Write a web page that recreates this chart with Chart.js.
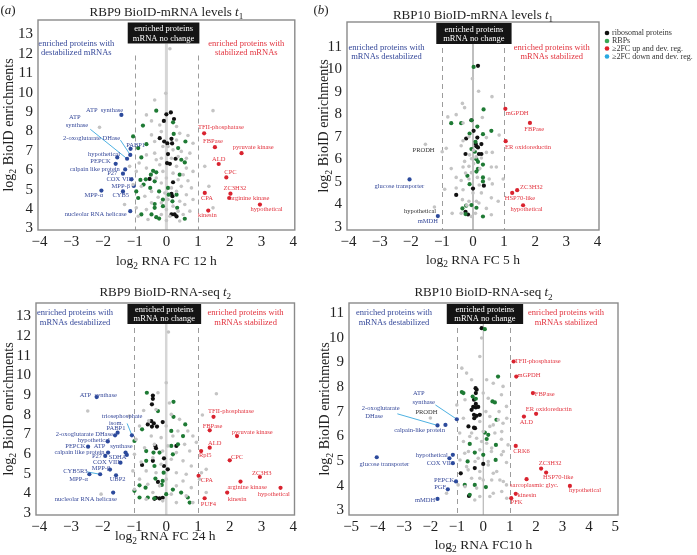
<!DOCTYPE html>
<html>
<head>
<meta charset="utf-8">
<script src="https://cdn.jsdelivr.net/npm/chart.js@4/dist/chart.umd.min.js"></script>
<style>
  body { margin: 0; background: #fff; }
  #wrap { position: relative; width: 697px; height: 555px; overflow: hidden; }
  canvas { position: absolute; }
</style>
</head>
<body>
<div id="wrap">
  <canvas id="cA" width="300" height="275" style="left:0;top:0;width:300px;height:275px"></canvas>
  <canvas id="cB" width="397" height="275" style="left:300px;top:0;width:397px;height:275px"></canvas>
  <canvas id="cC" width="300" height="280" style="left:0;top:275px;width:300px;height:280px"></canvas>
  <canvas id="cD" width="397" height="280" style="left:300px;top:275px;width:397px;height:280px"></canvas>
</div>
<script>
var SERIF = '"Liberation Serif", "DejaVu Serif", serif';

// ---- (a) RBP9 BioID-mRNA levels t1 ----
var aGrey = [[0.11,12.26],[-0.02,9.96],[-0.37,9.62],[1.47,9.07],[-2.11,8.21],[-0.63,8.85],[-0.47,8.54],[-0.21,8.33],[0.32,8.25],[-0.16,7.99],[0.42,7.9],[0.68,7.79],[-0.47,7.82],[-0.37,7.48],[0.32,7.56],[0.84,7.39],[-0.11,7.22],[0.21,7.05],[0.47,6.97],[0.74,6.88],[-0.37,6.88],[-0.63,6.79],[-0.16,6.62],[0.37,6.71],[0.63,6.62],[1.21,6.2],[-0.21,6.28],[0.32,6.2],[0.63,6.11],[-0.63,6.11],[-0.95,5.94],[-0.11,5.94],[0.21,5.85],[0.53,5.77],[0.84,5.94],[-0.32,5.6],[0.0,5.6],[0.37,5.51],[0.68,5.46],[-0.79,5.17],[-0.16,5.34],[0.16,5.09],[0.47,5.17],[0.79,5.09],[1.34,5.17],[-0.47,4.91],[-0.05,4.83],[0.32,4.91],[0.63,4.74],[-0.68,4.66],[-0.26,4.61],[0.05,4.49],[0.42,4.4],[0.84,4.49],[-0.47,4.32],[-0.16,4.32],[0.21,4.15],[0.58,4.23],[-1.32,4.23],[1.47,4.06],[-0.95,4.06],[-0.63,3.97],[0.0,3.97],[0.37,3.89],[0.74,3.89],[-0.89,3.63],[-0.16,3.72],[0.11,3.63],[0.53,3.72],[-0.58,3.46],[0.0,3.41],[0.42,3.38],[-1.05,5.26],[-1.16,6.2],[-0.86,6.37],[0.16,6.62],[0.05,7.22],[-0.32,6.54]];
var aGreen = [[-0.32,9.07],[-0.74,8.3],[-1.05,7.74],[0.21,8.47],[0.23,7.87],[0.6,7.48],[-0.63,7.34],[0.37,7.14],[-0.89,7.14],[0.47,6.54],[0.58,6.4],[-0.79,6.66],[-0.42,5.97],[-0.32,5.89],[-0.49,5.77],[-0.65,5.53],[-0.37,5.43],[-0.82,5.5],[-0.72,5.26],[-0.51,5.09],[-0.23,4.91],[-0.89,4.57],[-0.95,4.91],[0.05,5.09],[0.07,4.74],[-0.11,4.49],[-0.37,4.26],[-0.11,4.15],[-0.37,4.06],[-0.79,3.72],[-0.47,3.72],[-0.32,3.58],[-0.23,3.51],[0.58,3.5],[0.34,4.06],[0.19,4.4],[0.32,4.74],[0.42,5.77]];
var aBlack = [[0.14,8.98],[0.0,8.88],[-0.08,8.54],[0.24,8.64],[-0.21,7.65],[-0.07,7.48],[0.03,7.38],[0.16,7.62],[0.18,7.38],[0.02,6.37],[0.11,6.33],[0.29,6.59],[-0.53,5.55],[0.21,5.38],[0.16,4.78],[0.19,4.66],[0.16,3.72],[0.26,3.72],[0.32,3.62],[0.05,6.83]];
var aRed = [[1.19,7.9],[1.53,7.19],[2.37,6.88],[1.65,6.32],[1.89,5.63],[2.02,4.79],[1.21,4.83],[1.98,4.57],[2.95,4.23],[1.32,3.92]];
var aBlue = [[-1.42,8.85],[-1.13,7.1],[-1.14,6.79],[-1.24,6.59],[-1.55,6.66],[-1.6,6.33],[-1.3,6.04],[-1.37,5.82],[-1.1,5.53],[-1.03,5.19],[-2.05,4.95],[-1.37,4.91],[-1.14,3.89]];
var aRedLab = [['TFII-phosphatase',1.72,8.2],['FBPase',1.47,7.48],['pyruvate kinase',2.74,7.17],['ALD',1.65,6.57],['CPC',2.02,5.91],['ZC3H32',2.16,5.05],['CPA',1.28,4.54],['arginine kinase',2.63,4.57],['hypothetical',3.16,3.97],['kinesin',1.29,3.67]];
var aBlueLab = [['ATP  synthase',-1.95,9.1],['ATP',-2.89,8.71],['synthase',-2.82,8.33],['2-oxoglutarate DHase',-2.36,7.62],['PABP1',-0.97,7.26],['hypothetical',-1.97,6.83],['PEPCK',-2.08,6.45],['calpain like protein',-2.26,6.06],['P27',-1.71,5.82],['COX VIII',-1.47,5.53],['MPP-\u03b2',-1.44,5.19],['MPP-\u03b1',-2.29,4.71],['CYB5',-1.44,4.69],['nucleolar RNA helicase',-2.23,3.75]];
var aLines = [[-2.4,8.11,-1.24,6.59],[-1.45,7.55,-1.14,6.79]];

// ---- (b) RBP10 BioID-mRNA levels t1 ----
var bGrey = [[-0.02,9.58],[0.18,9.02],[0.61,8.78],[-0.34,8.48],[-0.27,8.29],[-0.54,7.98],[-0.81,7.88],[-0.32,7.61],[0.3,7.85],[0.84,7.07],[-0.32,6.82],[-0.13,7.0],[0.43,6.96],[-0.86,6.48],[-0.99,6.33],[-0.38,6.6],[-0.11,6.19],[-0.05,6.02],[0.27,6.05],[0.43,6.3],[0.62,6.3],[-0.27,5.9],[-0.13,5.68],[0.02,5.8],[0.22,5.58],[-0.32,5.65],[-0.7,5.58],[0.59,5.65],[0.75,5.65],[0.97,5.12],[-0.24,5.38],[-0.54,5.19],[-0.38,5.05],[-0.13,5.12],[0.14,5.19],[0.52,5.12],[0.62,4.9],[-0.54,4.72],[-0.32,4.64],[0.0,4.5],[0.27,4.5],[0.59,4.28],[-0.91,4.66],[0.81,4.13],[-0.34,4.2],[-0.13,4.13],[0.11,4.13],[-0.67,3.59],[-0.38,3.59],[-0.05,3.45],[0.08,3.59],[0.59,3.53],[0.43,3.81],[0.19,4.05],[-1.53,6.66],[-1.24,3.87],[0.02,6.4],[0.1,6.1],[-0.05,5.4],[0.2,4.85],[-0.2,3.95]];
var bGreen = [[0.02,10.1],[0.34,8.21],[-0.7,7.6],[-0.38,7.6],[-0.05,7.73],[0.14,7.45],[0.59,7.26],[-0.11,7.14],[0.32,7.11],[0.08,6.77],[-0.05,6.45],[0.06,6.33],[0.11,6.0],[0.16,5.88],[0.32,5.76],[0.16,5.57],[0.11,5.45],[0.32,5.19],[0.32,5.01],[-0.18,5.26],[-0.11,4.89],[-0.22,3.93],[-0.05,3.96],[0.11,3.84],[-0.24,3.56],[0.32,3.45],[-0.34,3.81]];
var bBlack = [[0.16,10.15],[-0.05,7.73],[0.02,7.26],[-0.22,6.92],[0.14,6.96],[0.09,6.67],[0.27,6.67],[0.11,6.57],[0.16,6.52],[-0.24,6.23],[0.19,6.23],[0.27,6.23],[0.35,4.82],[0.0,4.69],[-0.54,4.41],[-0.16,3.54],[-0.24,3.66]];
var bRed = [[1.04,8.24],[1.83,7.61],[1.05,6.8],[1.42,4.62],[1.26,4.5],[1.61,3.95]];
var bBlue = [[-2.04,5.1],[-1.13,3.47]];
var bRedLab = [['mGPDH',1.42,8.02],['FBPase',1.97,7.32],['ER oxidoreductin',1.77,6.51],['ZC3H32',1.88,4.76],['HSP70-like',1.51,4.25],['hypothetical',1.72,3.76]];
var bBlueLab = [['glucose transporter',-2.37,4.79],['mMDH',-1.45,3.25]];
var bDarkLab = [['PRODH',-1.59,6.38],['hypothetical',-1.7,3.66]];

// ---- (c) RBP9 BioID-RNA-seq t2 ----
var cGrey = [[0.07,12.21],[0.0,9.63],[-2.47,8.19],[-0.32,8.27],[1.58,9.07],[1.14,7.99],[-0.26,9.12],[-0.71,8.22],[-1.16,7.94],[0.16,8.02],[0.42,7.77],[0.0,7.43],[-0.84,7.43],[0.37,7.18],[0.68,7.18],[-0.47,6.92],[-0.16,6.84],[0.21,6.92],[0.84,6.92],[-0.95,6.75],[-0.37,6.5],[0.05,6.42],[0.58,6.5],[-0.68,6.33],[-0.11,6.16],[0.32,6.08],[0.74,6.16],[-1.0,5.99],[-0.42,5.82],[0.16,5.74],[0.53,5.66],[-0.79,5.6],[-0.16,5.49],[0.79,5.4],[1.26,5.23],[-1.05,5.15],[-0.63,5.15],[-0.32,5.06],[0.32,5.06],[0.63,4.98],[1.11,5.06],[-0.84,4.73],[0.0,4.73],[0.53,4.64],[-0.58,4.47],[-0.21,4.39],[0.32,4.39],[0.79,4.3],[-1.0,4.22],[1.26,4.05],[-0.42,4.05],[0.16,3.97],[-2.05,3.97],[0.63,3.88],[-0.63,3.71],[-0.11,3.63],[0.32,3.54],[0.84,3.54],[1.05,4.73],[0.95,6.6],[-0.55,7.7],[0.1,8.6]];
var cGreen = [[-0.61,9.12],[0.23,8.66],[0.23,7.9],[0.6,7.51],[-0.26,8.19],[-0.76,7.26],[0.16,7.18],[0.53,6.92],[-1.0,6.67],[0.37,6.5],[0.16,6.42],[-0.63,6.16],[-0.4,6.08],[-0.21,6.08],[0.21,5.99],[-0.63,5.66],[-0.37,5.4],[-0.08,5.06],[-0.34,4.76],[-0.11,4.64],[-0.14,4.44],[-0.84,4.42],[-1.0,4.14],[-0.65,4.3],[0.21,4.2],[0.47,4.05],[0.0,3.97],[-0.84,3.8],[-0.58,3.8],[-0.37,3.76],[0.74,3.54],[0.68,3.8]];
var cBlack = [[-0.42,8.98],[-0.42,8.81],[-0.45,8.53],[-0.47,7.68],[-0.58,7.51],[-0.39,7.56],[-0.45,7.4],[-0.29,7.4],[-0.11,7.63],[-0.34,6.42],[-0.32,6.3],[0.32,6.42],[-0.42,5.66],[-0.07,5.79],[-0.76,5.45],[-0.07,5.4],[0.05,5.23],[-0.26,4.59],[-0.11,3.78],[-0.21,3.75],[-0.32,3.78],[-0.37,3.73]];
var cRed = [[1.49,7.9],[1.37,7.21],[2.23,6.92],[1.37,6.33],[1.1,6.16],[2.0,5.69],[2.95,4.84],[1.02,4.9],[2.34,4.61],[3.6,4.29],[1.92,4.05],[1.21,3.76]];
var cBlue = [[-2.19,8.9],[-1.08,6.96],[-1.53,7.09],[-1.61,6.96],[-1.84,6.65],[-2.46,6.38],[-1.28,6.08],[-1.83,6.08],[-1.92,5.91],[-1.24,5.96],[-1.44,5.57],[-1.77,5.22],[-2.08,4.98],[-2.42,4.98],[-1.58,4.93],[-1.67,4.05]];
var cRedLab = [['TFII-phosphatase',2.04,8.16],['FBPase',1.46,7.43],['pyruvate kinase',2.71,7.13],['ALD',1.53,6.55],['Rpl5',1.23,5.94],['CPC',2.23,5.82],['ZC3H3',3.01,5.03],['CPA',1.28,4.69],['arginine kinase',2.55,4.3],['hypothetical',3.39,3.95],['kinesin',2.23,3.71],['PUF4',1.33,3.46]];
var cBlueLab = [['ATP  synthase',-2.14,9.0],['triosephosphate',-1.39,7.9],['isom.',-1.58,7.56],['PABP1',-1.58,7.29],['2-oxoglutarate DHase',-2.58,7.0],['hypothetical',-2.28,6.7],['PEPCK',-2.86,6.42],['ATP   synthase',-1.67,6.38],['calpain like protein',-2.73,6.11],['P27',-2.18,5.88],['SDHA',-1.53,5.86],['COX VIII',-1.89,5.57],['MPP-\u03b2',-2.05,5.3],['CYB5R3',-2.86,5.15],['MPP-\u03b1',-2.76,4.73],['UBP2',-1.53,4.73],['nucleolar RNA helicase',-2.53,3.71]];
var cLines = [[-1.23,7.56,-1.08,6.96],[-2.49,5.1,-2.08,4.98]];

// ---- (d) RBP10 BioID-RNA-seq t2 ----
var dGrey = [[-0.06,9.99],[-0.13,9.24],[-0.81,8.77],[-0.63,8.57],[-0.44,8.3],[0.13,8.3],[0.38,8.16],[0.75,8.03],[0.69,7.69],[0.0,7.76],[0.19,7.55],[-0.69,7.49],[-1.0,7.28],[0.88,7.22],[0.6,7.01],[0.1,7.01],[0.25,6.81],[-0.75,6.74],[0.75,6.54],[-0.13,6.61],[0.25,6.41],[-0.44,6.14],[0.0,6.2],[0.44,6.14],[-0.25,5.93],[0.69,5.89],[0.13,5.73],[-0.75,5.8],[0.94,5.66],[-0.56,5.39],[-0.13,5.46],[0.31,5.39],[0.69,5.26],[-0.88,5.05],[-0.31,4.99],[0.19,4.99],[0.88,4.95],[-0.63,4.78],[-0.13,4.58],[0.38,4.51],[-0.44,4.31],[0.0,4.24],[0.63,4.24],[-0.69,3.97],[-0.25,3.91],[0.38,3.7],[-0.13,3.57],[0.88,4.04],[-2.0,6.75],[0.89,6.74],[0.57,6.68],[0.38,6.47],[0.7,6.2],[-0.89,6.14],[-0.51,6.0],[-0.06,5.8],[0.32,5.53],[-0.7,5.32],[-0.19,5.12],[0.76,5.39],[0.19,4.85],[-0.57,4.65],[0.51,4.58],[-0.13,4.31],[0.32,4.24],[0.76,4.18],[-0.95,4.04],[0.7,3.77],[0.25,3.57],[-0.32,3.43],[-1.39,3.7],[0.89,3.5]];
var dGreen = [[0.06,10.35],[0.56,8.43],[-0.81,7.8],[-0.75,7.76],[-0.4,7.62],[-0.28,7.53],[0.35,7.42],[0.44,7.38],[0.5,6.68],[0.06,6.16],[0.19,6.07],[0.13,5.9],[0.48,5.66],[-0.51,5.7],[-0.32,5.35],[0.0,5.26],[0.47,5.05],[-0.59,4.99],[-0.7,4.04],[-0.32,4.04],[0.1,3.95],[-0.51,3.64]];
var dBlack = [[-0.06,10.39],[-0.29,7.96],[-0.25,7.9],[-0.28,7.76],[-0.35,7.49],[-0.28,7.32],[-0.38,7.2],[-0.28,7.18],[-0.19,7.2],[-0.44,7.08],[-0.35,6.88],[-0.25,6.84],[-0.13,6.88],[-0.34,6.74],[-0.35,6.36],[-0.56,6.41],[-0.31,6.34],[0.0,4.89],[-0.85,4.51],[-0.32,4.72],[-0.54,3.59]];
var dRed = [[1.15,9.04],[1.25,8.43],[1.88,7.76],[2.0,6.92],[1.54,6.81],[1.23,5.62],[2.19,4.7],[2.38,4.54],[1.64,4.27],[3.28,4.0],[1.23,3.68],[1.06,3.5]];
var dBlue = [[-1.0,6.7],[-1.73,6.45],[-1.43,6.47],[-4.03,5.16],[-1.28,5.12],[-1.15,5.26],[-1.15,4.92],[-1.03,4.18],[-1.34,3.86],[-1.73,3.47]];
var dRedLab = [['TFII-phosphatase',2.06,9.04],['mGPDH',1.73,8.5],['FBPase',2.33,7.72],['ER oxidoreductin',2.48,7.11],['ALD',1.63,6.58],['CRK6',1.45,5.42],['ZC3H32',2.53,4.92],['HSP70-like',2.84,4.35],['sarcoplasmic glyc.',1.93,4.01],['hypothetical',3.85,3.81],['kinesin',1.65,3.61],['PFK',1.26,3.34]];
var dBlueLab = [['ATP',-2.44,7.76],['synthase',-2.25,7.39],['2-oxoglutarate',-3.88,7.15],['DHase',-4.13,6.81],['calpain-like protein',-2.41,6.24],['glucose transporter',-3.74,4.89],['hypothetical',-1.95,5.22],['COX VII',-1.68,4.92],['PEPCK',-1.48,4.24],['PGF',-1.63,3.95],['mMDH',-2.2,3.43]];
var dDarkLab = [['PRODH',-2.15,6.99]];
var dLines = [[-1.81,7.28,-1.0,6.7],[-3.25,6.92,-1.73,6.45]];

var legendNames = ['ribosomal proteins', 'RBPs', '\u22652FC up and dev. reg.', '\u22652FC down and dev. reg.'];
var legendColors = ['#111111', '#3aa655', '#e0202a', '#29a9e1'];

var RED_TXT = '#e2343f', BLUE_TXT = '#36499a';

function range(a, b) { var r = []; for (var i = a; i <= b; i++) r.push(i); return r; }
function fmt(v) { return v < 0 ? '\u2212' + (-v) : '' + v; }
function pts(arr) { return arr.map(function (p) { return { x: p[0], y: p[1] }; }); }
function ds(arr, color, r) {
  return { data: pts(arr), backgroundColor: color, pointBackgroundColor: color,
           pointRadius: r, pointBorderWidth: 0, pointHoverRadius: r };
}

// text with italic / subscript pieces, centred on x
function rich(ctx, parts, x, y, size) {
  function f(k) { return (k === 'i' ? 'italic ' : '') + (k === 's' ? size * 0.7 : size) + 'px ' + SERIF; }
  var w = 0;
  parts.forEach(function (p) { ctx.font = f(p[1]); w += ctx.measureText(p[0]).width; });
  var cx = x - w / 2;
  ctx.textAlign = 'left';
  ctx.textBaseline = 'alphabetic';
  parts.forEach(function (p) {
    ctx.font = f(p[1]);
    ctx.fillText(p[0], cx, y + (p[1] === 's' ? size * 0.28 : 0));
    cx += ctx.measureText(p[0]).width;
  });
}

function panelPlugin(p) {
  return {
    id: 'deco' + p.id,
    beforeDatasetsDraw: function (chart) {
      var ctx = chart.ctx, a = chart.chartArea, x = chart.scales.x, y = chart.scales.y;
      ctx.save();
      var bx1 = x.getPixelForValue(p.box[0]), bx2 = x.getPixelForValue(p.box[1]);
      var by = a.top + p.boxTop, bh = p.boxH;
      // zero line
      var x0 = x.getPixelForValue(0);
      ctx.strokeStyle = p.zeroColor; ctx.lineWidth = p.zeroW;
      ctx.beginPath(); ctx.moveTo(x0, by + bh); ctx.lineTo(x0, a.bottom); ctx.stroke();
      // dashed +-1
      ctx.setLineDash([5, 4]); ctx.strokeStyle = '#9c9c9c'; ctx.lineWidth = 1;
      [-1, 1].forEach(function (v) {
        var px = Math.round(x.getPixelForValue(v)) + 0.5;
        ctx.beginPath(); ctx.moveTo(px, by + bh + p.dashGap); ctx.lineTo(px, a.bottom); ctx.stroke();
      });
      ctx.setLineDash([]);
      // black header box
      ctx.fillStyle = '#141414';
      ctx.fillRect(bx1, by, bx2 - bx1, bh);
      ctx.fillStyle = '#fff';
      ctx.font = '8.5px ' + SERIF; ctx.textAlign = 'center'; ctx.textBaseline = 'middle';
      ctx.fillText('enriched proteins', (bx1 + bx2) / 2, by + bh * 0.3);
      ctx.fillText('mRNA no change', (bx1 + bx2) / 2, by + bh * 0.76);
      // region captions
      ctx.font = '8.5px ' + SERIF;
      ctx.fillStyle = BLUE_TXT;
      p.leftText.forEach(function (t, i) { ctx.fillText(t, x.getPixelForValue(p.capX[0]), a.top + p.capY[i]); });
      ctx.fillStyle = RED_TXT;
      p.rightText.forEach(function (t, i) { ctx.fillText(t, x.getPixelForValue(p.capX[1]), a.top + p.capY[i]); });
      // leader lines
      ctx.strokeStyle = '#3aa8de'; ctx.lineWidth = 0.9;
      (p.lines || []).forEach(function (l) {
        ctx.beginPath();
        ctx.moveTo(x.getPixelForValue(l[0]), y.getPixelForValue(l[1]));
        ctx.lineTo(x.getPixelForValue(l[2]), y.getPixelForValue(l[3]));
        ctx.stroke();
      });
      ctx.restore();
    },
    afterDraw: function (chart) {
      var ctx = chart.ctx, a = chart.chartArea, x = chart.scales.x, y = chart.scales.y;
      ctx.save();
      ctx.strokeStyle = '#8a8a8a'; ctx.lineWidth = 1.4;
      ctx.strokeRect(a.left, a.top, a.right - a.left, a.bottom - a.top);
      // point labels
      ctx.font = '6.5px ' + SERIF; ctx.textAlign = 'center'; ctx.textBaseline = 'middle';
      [[p.redLab, RED_TXT], [p.blueLab, BLUE_TXT], [p.darkLab || [], '#333']].forEach(function (g) {
        ctx.fillStyle = g[1];
        g[0].forEach(function (l) { ctx.fillText(l[0], x.getPixelForValue(l[1]), y.getPixelForValue(l[2])); });
      });
      // titles
      ctx.fillStyle = '#222';
      var cx = (a.left + a.right) / 2;
      rich(ctx, p.title, cx, p.titleY, 13);
      rich(ctx, p.xTitle, cx, p.xTitleY, 13.5);
      ctx.save();
      ctx.translate(p.yTitleX, (a.top + a.bottom) / 2);
      ctx.rotate(-Math.PI / 2);
      rich(ctx, [['log', ''], ['2', 's'], [' BioID enrichments', '']], 0, 0, 14);
      ctx.restore();
      rich(ctx, [['(', ''], [p.letter, 'i'], [')', '']], p.letterX, 14, 13);
      if (p.legend) {
        legendNames.forEach(function (n, i) {
          var ly = p.legend.y[i];
          ctx.fillStyle = legendColors[i];
          ctx.beginPath(); ctx.arc(p.legend.x, ly, 2.3, 0, Math.PI * 2); ctx.fill();
          ctx.fillStyle = '#333'; ctx.font = '8px ' + SERIF;
          ctx.textAlign = 'left'; ctx.textBaseline = 'middle';
          ctx.fillText(n, p.legend.x + 5, ly);
        });
      }
      ctx.restore();
    }
  };
}

function makePanel(canvasId, p) {
  var tickFont = { family: SERIF, size: 15 };
  new Chart(document.getElementById(canvasId), {
    type: 'scatter',
    data: {
      datasets: [
        ds(p.grey, '#c4c4c4', 1.8),
        ds(p.green, '#1e7a34', 2.1),
        ds(p.black, '#111111', 2.1),
        ds(p.red, '#d9232f', 2.1),
        ds(p.blue, '#2c4a9c', 2.1)
      ]
    },
    options: {
      responsive: false,
      animation: false,
      events: [],
      layout: { padding: { left: 0, top: p.padT, right: p.padR, bottom: 0 } },
      plugins: { legend: { display: false }, tooltip: { enabled: false } },
      scales: {
        x: {
          type: 'linear', min: p.xMin, max: p.xMax,
          afterFit: function (s) { s.height = p.xAxisH; },
          afterBuildTicks: function (s) { s.ticks = p.xTicks.map(function (v) { return { value: v }; }); },
          grid: { display: false, drawTicks: false }, border: { display: false },
          ticks: { font: tickFont, color: '#222', padding: 3, maxRotation: 0, autoSkip: false, callback: fmt }
        },
        y: {
          type: 'linear', min: p.yMin, max: p.yMax,
          afterFit: function (s) { s.width = p.yAxisW; },
          afterBuildTicks: function (s) { s.ticks = p.yTicks.map(function (v) { return { value: v }; }); },
          grid: { display: false, drawTicks: false }, border: { display: false },
          ticks: { font: tickFont, color: '#222', padding: 5, autoSkip: false, callback: fmt }
        }
      }
    },
    plugins: [panelPlugin(p)]
  });
}

makePanel('cA', {
  id: 'a', grey: aGrey, green: aGreen, black: aBlack, red: aRed, blue: aBlue,
  redLab: aRedLab, blueLab: aBlueLab, lines: aLines,
  padT: 20, padR: 5, yAxisW: 38, xAxisH: 45,
  xMin: -4.05, xMax: 4.05, yMin: 2.92, yMax: 13.74, xTicks: range(-4, 4), yTicks: range(3, 13),
  box: [-1.22, 1.04], boxTop: 2.5, boxH: 21, dashGap: 12, zeroColor: '#d6d6d6', zeroW: 3,
  leftText: ['enriched proteins with', 'destabilized mRNAs'], rightText: ['enriched proteins with', 'stabilized mRNAs'],
  capX: [-2.84, 2.52], capY: [23.3, 32.7],
  title: [['RBP9 BioID-mRNA levels ', ''], ['t', 'i'], ['1', 's']], titleY: 15.5,
  xTitle: [['log', ''], ['2', 's'], [' RNA FC 12 h', '']], xTitleY: 265,
  yTitleX: 12.5, letter: 'a', letterX: 8
});

makePanel('cB', {
  id: 'b', grey: bGrey, green: bGreen, black: bBlack, red: bRed, blue: bBlue,
  redLab: bRedLab, blueLab: bBlueLab, darkLab: bDarkLab, lines: [],
  padT: 22, padR: 98, yAxisW: 47, xAxisH: 45,
  xMin: -4.05, xMax: 4.05, yMin: 2.85, yMax: 12.1, xTicks: range(-4, 4), yTicks: range(3, 11),
  box: [-1.18, 1.24], boxTop: 1, boxH: 21, dashGap: 4, zeroColor: '#a4a4a4', zeroW: 1.4,
  leftText: ['enriched proteins with', 'mRNAs destabilized'], rightText: ['enriched proteins with', 'mRNAs stabilized'],
  capX: [-2.78, 2.53], capY: [25.7, 35],
  title: [['RBP10 BioID-mRNA levels ', ''], ['t', 'i'], ['1', 's']], titleY: 18.5,
  xTitle: [['log', ''], ['2', 's'], [' RNA FC 5 h', '']], xTitleY: 263.5,
  yTitleX: 28, letter: 'b', letterX: 21,
  legend: { x: 307, y: [33, 41, 48.5, 56.5] }
});

makePanel('cC', {
  id: 'c', grey: cGrey, green: cGreen, black: cBlack, red: cRed, blue: cBlue,
  redLab: cRedLab, blueLab: cBlueLab, lines: cLines,
  padT: 28, padR: 4, yAxisW: 36, xAxisH: 40,
  xMin: -4.1, xMax: 4.04, yMin: 2.91, yMax: 13.68, xTicks: range(-4, 4), yTicks: range(3, 13),
  box: [-1.22, 1.1], boxTop: 1, boxH: 20, dashGap: 4, zeroColor: '#d6d6d6', zeroW: 2.5,
  leftText: ['enriched proteins with', 'mRNAs destabilized'], rightText: ['enriched proteins with', 'mRNAs stabilized'],
  capX: [-2.87, 2.5], capY: [10, 19.4],
  title: [['RBP9 BioID-RNA-seq ', ''], ['t', 'i'], ['2', 's']], titleY: 20.5,
  xTitle: [['log', ''], ['2', 's'], [' RNA FC 24 h', '']], xTitleY: 265,
  yTitleX: 12.5, letter: '', letterX: -50
});

makePanel('cD', {
  id: 'd', grey: dGrey, green: dGreen, black: dBlack, red: dRed, blue: dBlue,
  redLab: dRedLab, blueLab: dBlueLab, darkLab: dDarkLab, lines: dLines,
  padT: 28, padR: 79, yAxisW: 49, xAxisH: 40,
  xMin: -5.08, xMax: 5.1, yMin: 2.82, yMax: 11.41, xTicks: range(-5, 5), yTicks: range(3, 11),
  box: [-1.38, 1.51], boxTop: 1, boxH: 20, dashGap: 4, zeroColor: '#a8a8a8', zeroW: 1,
  leftText: ['enriched proteins with', 'mRNAs destabilized'], rightText: ['enriched proteins with', 'mRNAs stabilized'],
  capX: [-3.38, 3.13], capY: [10, 19.4],
  title: [['RBP10 BioID-RNA-seq ', ''], ['t', 'i'], ['2', 's']], titleY: 21,
  xTitle: [['log', ''], ['2', 's'], [' RNA FC10 h', '']], xTitleY: 273.5,
  yTitleX: 29, letter: '', letterX: -50
});
</script>
</body>
</html>
